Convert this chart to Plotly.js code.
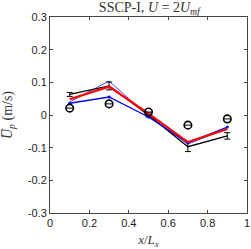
<!DOCTYPE html>
<html>
<head>
<script src="https://cdn.plot.ly/plotly-3.0.1.min.js"></script>
<style>body{margin:0;padding:0;background:#fff}#plot{width:251px;height:249px}</style>
</head>
<body>
<div id="plot"></div>
<script>
var xPos = [0.1, 0.3, 0.5, 0.7, 0.9];
var blackSim = [0.063, 0.089, 0.0, -0.097, -0.064];
var blackErr = [0.006, 0.012, 0.006, 0.015, 0.01];
var redSim = [0.048, 0.087, 0.004, -0.083, -0.043];
var blueThick = [0.036, 0.055, -0.006, -0.085, -0.037];
var blueThin = [0.04, 0.104, -0.004, -0.089, -0.041];
var expData = [0.021, 0.034, 0.009, -0.031, -0.012];
var xTicks = [0, 0.2, 0.4, 0.6, 0.8, 1];
var xTickText = ['0', '0.2', '0.4', '0.6', '0.8', '1'];
var yTicks = [-0.3, -0.2, -0.1, 0, 0.1, 0.2, 0.3];
var yTickText = ['-0.3', '-0.2', '-0.1', '0', '0.1', '0.2', '0.3'];

var traces = [
  {x: xPos, y: blueThin, mode: 'lines', line: {color: '#3333ff', width: 0.9}, showlegend: false},
  {x: xPos, y: blackSim, mode: 'lines', line: {color: '#000', width: 1.3},
   error_y: {type: 'data', array: blackErr, color: '#000', thickness: 1, width: 3}, showlegend: false},
  {x: xPos, y: blueThick, mode: 'lines+markers', line: {color: '#0000ff', width: 1.3},
   marker: {size: 3, color: '#0000ff'}, showlegend: false},
  {x: xPos, y: redSim, mode: 'lines', line: {color: '#ff0000', width: 2.2}, showlegend: false},
  {x: xPos, y: expData, mode: 'markers', marker: {symbol: 'circle-open', size: 7.5, color: '#000', line: {width: 1.6, color: '#000'}}, showlegend: false},
  {x: xPos, y: expData, mode: 'markers', marker: {symbol: 'line-ew-open', size: 5, color: '#000', line: {width: 1, color: '#000'}}, showlegend: false}
];

var serif = 'Liberation Serif, Times New Roman, serif';
var axisCommon = {
  showgrid: false, zeroline: false, showline: true, mirror: 'ticks',
  linecolor: '#444', linewidth: 1, ticks: 'inside', ticklen: 3, tickcolor: '#444',
  tickfont: {family: 'Liberation Sans, Arial, sans-serif', size: 11, color: '#222'}
};

var layout = {
  width: 251, height: 249,
  margin: {l: 50, r: 4, t: 17, b: 36},
  paper_bgcolor: '#fff', plot_bgcolor: '#fff',
  title: {text: 'SSCP-I, <i>U</i> = 2<i>U</i><sub><i>mf</i></sub>',
          font: {family: serif, size: 14, color: '#333', weight: 'normal'},
          x: 0.595, xanchor: 'center', y: 0.972, yanchor: 'middle'},
  xaxis: Object.assign({}, axisCommon, {
    range: [0, 1], tickvals: xTicks, ticktext: xTickText,
    title: {text: '<i>x</i>/<i>L<sub>x</sub></i>', font: {family: serif, size: 13, color: '#333'}, standoff: 7}
  }),
  yaxis: Object.assign({}, axisCommon, {
    range: [-0.3, 0.3], tickvals: yTicks, ticktext: yTickText,
    title: {text: '<i>U̅</i><sub><i>p</i></sub> (m/s)', font: {family: serif, size: 14, color: '#333'}, standoff: 12}
  })
};

Plotly.newPlot('plot', traces, layout, {displayModeBar: false, staticPlot: true});
</script>
</body>
</html>
